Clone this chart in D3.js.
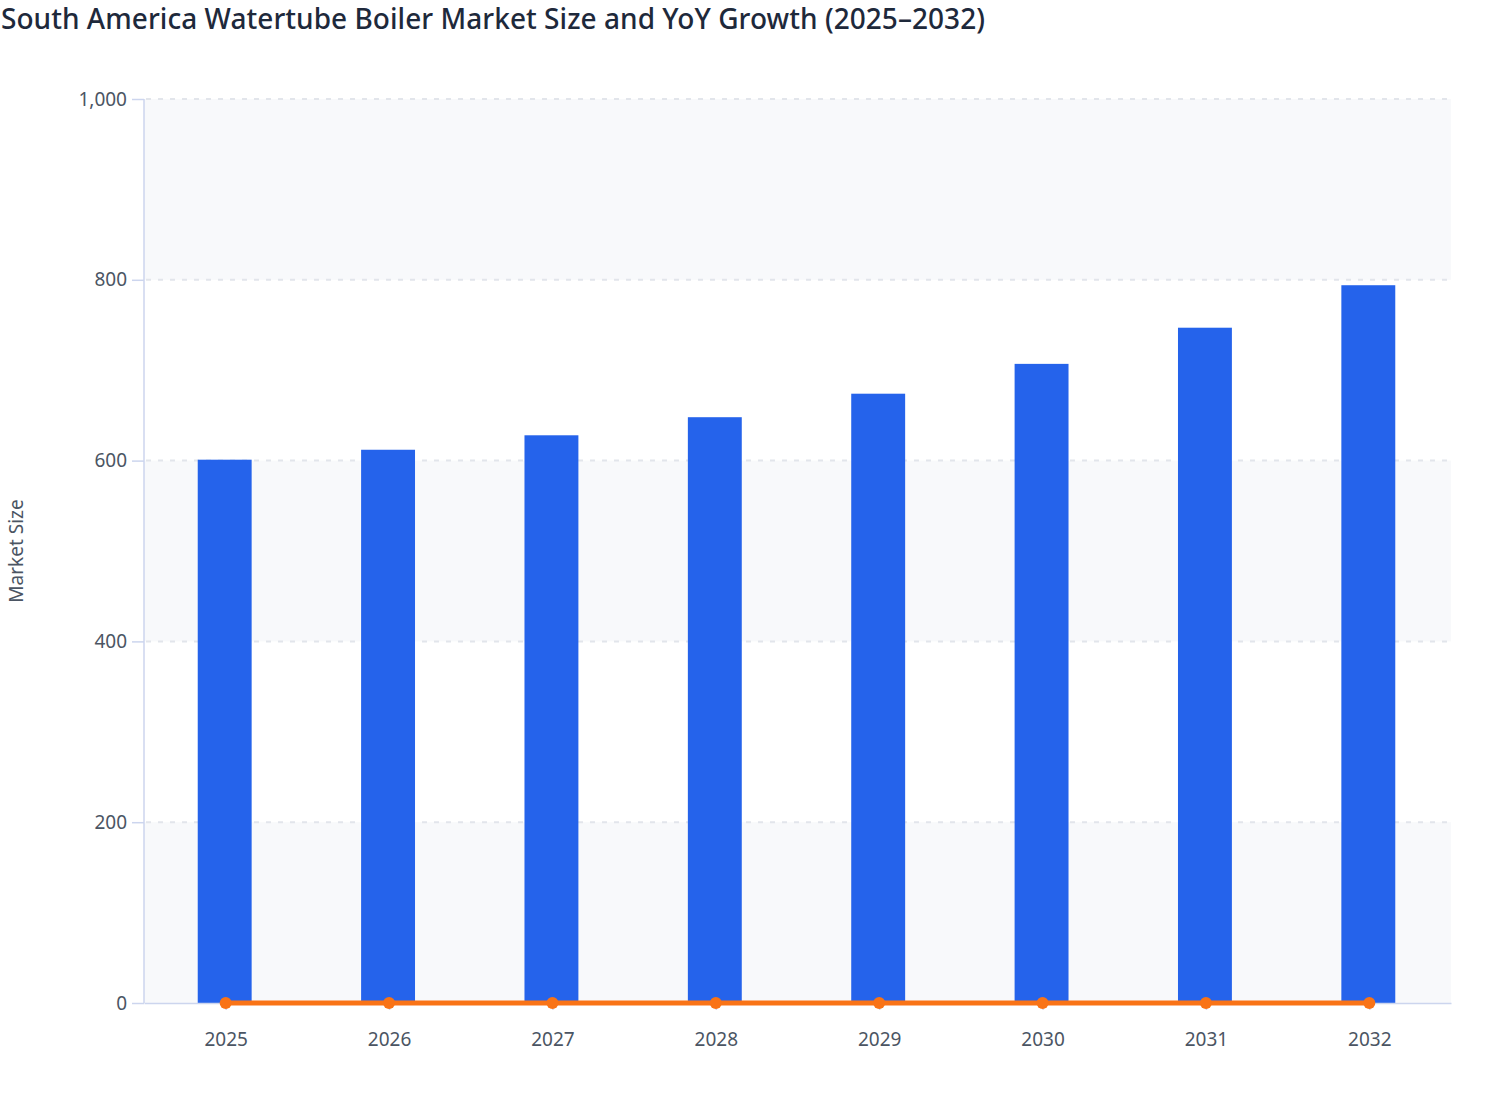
<!DOCTYPE html>
<html>
<head>
<meta charset="UTF-8">
<script src="https://d3js.org/d3.v7.min.js"></script>
<style>
  body { margin: 0; background: #fff; font-family: "Noto Sans", "Open Sans", sans-serif; }
</style>
</head>
<body>
<div id="chart"></div>
<script>
// data
var years = ["2025", "2026", "2027", "2028", "2029", "2030", "2031", "2032"];
var marketSize = [601, 612, 628, 648, 674, 707, 747, 794];
var yoyGrowth = [0.017, 0.018, 0.026, 0.032, 0.04, 0.049, 0.057, 0.063];
var yTicks = [0, 200, 400, 600, 800, 1000];

var width = 1508, height = 1120;
var margin = {top: 99, right: 57, bottom: 117, left: 144};

var svg = d3.select("#chart").append("svg")
  .attr("width", width)
  .attr("height", height);

svg.append("text")
  .attr("x", 1)
  .attr("y", 29)
  .attr("fill", "#1e293b")
  .attr("font-size", 28)
  .attr("font-weight", 500)
  .attr("textLength", 984)
  .text("South America Watertube Boiler Market Size and YoY Growth (2025–2032)");

var g = svg.append("g")
  .attr("transform", "translate(" + margin.left + "," + margin.top + ")");

var w = width - margin.left - margin.right;
var h = height - margin.top - margin.bottom;

var x = d3.scaleBand().domain(years).range([0, w]).paddingInner(0.67).paddingOuter(0.335);
var xc = d3.scalePoint().domain(years).range([0, w]).padding(0.5);
var y = d3.scaleLinear().domain([0, 1000]).range([h, 0]);

// alternating bands
for (var i = 0; i < yTicks.length - 1; i += 2) {
  g.append("rect")
    .attr("x", 0)
    .attr("width", w)
    .attr("y", y(yTicks[i + 1]))
    .attr("height", y(yTicks[i]) - y(yTicks[i + 1]))
    .attr("fill", "#f8f9fb");
}

// grid
g.selectAll(".grid").data(yTicks.slice(1)).enter().append("line")
  .attr("x1", 2).attr("x2", w)
  .attr("y1", function(d) { return y(d); })
  .attr("y2", function(d) { return y(d); })
  .attr("stroke", "#e2e5eb")
  .attr("stroke-width", 2)
  .attr("stroke-dasharray", "5,7");

// bars
g.selectAll(".bar").data(marketSize).enter().append("rect")
  .attr("x", function(d, i) { return x(years[i]) - 1; })
  .attr("width", x.bandwidth())
  .attr("y", function(d) { return y(d); })
  .attr("height", function(d) { return h - y(d); })
  .attr("fill", "#2563eb");

// axes
var yAxis = g.append("g").call(d3.axisLeft(y).tickValues(yTicks).tickSize(12).tickPadding(5).tickFormat(d3.format(",")));
var xAxis = g.append("g").attr("transform", "translate(0," + h + ")")
  .call(d3.axisBottom(xc).tickSize(7).tickPadding(23).tickSizeOuter(0));

[yAxis, xAxis].forEach(function(a) {
  a.select(".domain").attr("stroke", "#ccd5ee").attr("stroke-width", 1.5);
  a.selectAll(".tick line").attr("stroke", "#ccd5ee").attr("stroke-width", 1.5);
  a.selectAll(".tick text").attr("fill", "#4b5563").attr("font-size", 19)
    .attr("font-family", "'Noto Sans', 'Open Sans', sans-serif");
});
yAxis.select(".domain").attr("d", "M0," + h + "V0");

// growth line on the same axis
var line = d3.line()
  .x(function(d, i) { return xc(years[i]); })
  .y(function(d) { return y(d); });

g.append("path")
  .datum(yoyGrowth)
  .attr("d", line)
  .attr("fill", "none")
  .attr("stroke", "#f97316")
  .attr("stroke-width", 5);

g.selectAll(".dot").data(yoyGrowth).enter().append("circle")
  .attr("cx", function(d, i) { return xc(years[i]); })
  .attr("cy", function(d) { return y(d); })
  .attr("r", 6)
  .attr("fill", "#f97316");

svg.append("text")
  .attr("transform", "translate(23," + (margin.top + h / 2) + ") rotate(-90)")
  .attr("text-anchor", "middle")
  .attr("fill", "#4b5563")
  .attr("font-size", 19)
  .text("Market Size");
</script>
</body>
</html>
